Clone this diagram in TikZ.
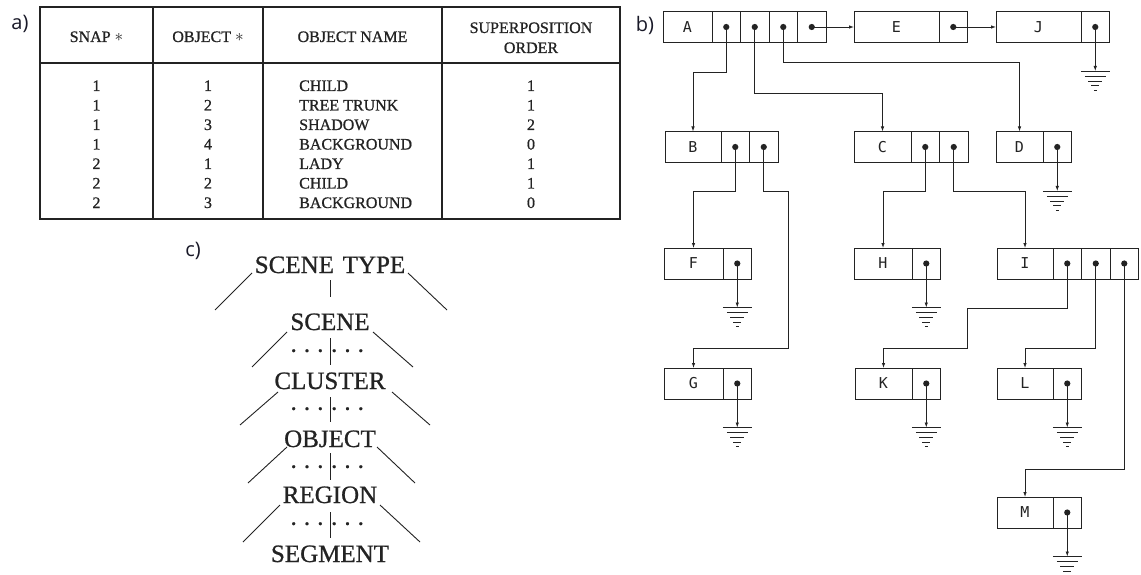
\documentclass[tikz,border=0pt]{standalone}
\usepackage{fontspec}
\setmainfont{Liberation Serif}[BoldFont={Liberation Serif},BoldFeatures={FakeBold=0.8}]
\newfontfamily\labfont{Open Sans}
\newfontfamily\recfont{DejaVu Sans Mono}
\usetikzlibrary{arrows.meta}
\definecolor{ink}{RGB}{35,35,35}
\definecolor{labc}{RGB}{25,25,40}
\begin{document}
\begin{tikzpicture}[x=1pt,y=-1pt,
  lab/.style={font=\labfont\fontsize{20}{20}\selectfont, text=labc, inner sep=0},
  tt/.style={font=\fontsize{16}{20}\selectfont\bfseries, text=ink, inner sep=0, anchor=base},
  tl/.style={draw=ink, line width=1.1pt},
  hier/.style={font=\fontsize{25}{25}\selectfont\bfseries, text=ink, inner sep=0, outer sep=0, anchor=base},
  dotrow/.style={font=\fontsize{25}{25}\selectfont\bfseries, text=ink, inner sep=0, anchor=base},
  hl/.style={draw=ink, line width=0.9pt},
  rec/.style={draw=ink, line width=0.9pt, inner sep=0, outer sep=0, minimum height=31pt, font=\recfont\fontsize{15}{15}\selectfont, text=ink},
  cell/.style={rec, minimum width=28.5pt},
  ptr/.style={draw=ink, line width=0.8pt, -{Latex[length=5pt,width=3.5pt]}},
  gline/.style={draw=ink, line width=0.9pt},
  gnd/.pic={\draw[gline] (-14.5,0)--(14.5,0) (-10.5,5)--(10.5,5) (-7,10)--(7,10) (-4,14.5)--(4,14.5) (-1.5,19)--(1.5,19);}
]
\fill[white] (0,0) rectangle (1141,575);
\useasboundingbox (0,0) rectangle (1141,575);

% ---------- labels ----------
\node[lab] (la) at (20,24) {a)};
\node[lab] (lb) at (645,25) {b)};
\node[lab] (lc) at (193,251) {c)};

% ---------- a) table ----------
\draw[tl] (40,7) rectangle (620,219);
\draw[tl] (40,63) -- (620,63);
\draw[tl] (153,7) -- (153,219);
\draw[tl] (263,7) -- (263,219);
\draw[tl] (442,7) -- (442,219);
\node[tt] (h1) at (96.5,42) {SNAP $\ast$};
\node[tt] (h2) at (208,42) {OBJECT $\ast$};
\node[tt] (h3) at (352.5,42) {OBJECT NAME};
\node[tt] (h4) at (531,33) {SUPERPOSITION};
\node[tt] (h5) at (531,53) {ORDER};
\foreach \s/\o/\n/\p [count=\i from 0] in {1/1/CHILD/1,1/2/TREE TRUNK/1,1/3/SHADOW/2,1/4/BACKGROUND/0,2/1/LADY/1,2/2/CHILD/1,2/3/BACKGROUND/0}{
  \node[tt] (s\i) at (96.5,91+19.5*\i) {\s};
  \node[tt] (o\i) at (208,91+19.5*\i) {\o};
  \node[tt,anchor=base west] (n\i) at (299,91+19.5*\i) {\n};
  \node[tt] (p\i) at (531,91+19.5*\i) {\p};
}

% ---------- c) hierarchy ----------
\node[hier] (st) at (330,273) {SCENE\hspace{0.35em}TYPE};
\node[hier] (sc) at (330,330) {SCENE};
\node[hier] (cl) at (330,389) {CLUSTER};
\node[hier] (ob) at (330,447) {OBJECT};
\node[hier] (re) at (330,503) {REGION};
\node[hier] (sg) at (330,562) {SEGMENT};
\draw[hl,shorten <=7pt,shorten >=16.5pt] (st) -- (sc);
\draw[hl,shorten <=8pt,shorten >=7.5pt] (sc) -- (cl);
\draw[hl,shorten <=8pt,shorten >=8.5pt] (cl) -- (ob);
\draw[hl,shorten <=6pt,shorten >=6.5pt] (ob) -- (re);
\draw[hl,shorten <=9pt,shorten >=7.5pt] (re) -- (sg);
\foreach \y [count=\k] in {359,417,475,532}{
  \node[dotrow] (dl\k) at (307,\y) {·\hspace{5pt}·\hspace{5pt}·};
  \node[dotrow] (dr\k) at (347.5,\y) {·\hspace{5pt}·\hspace{5pt}·};
}
\draw[hl] (252,273) -- (215,310) (408,273) -- (447,310);
\draw[hl] (287,332) -- (252,367) (373,332) -- (413,367);
\draw[hl] (278,392) -- (240,425) (392,392) -- (430,425);
\draw[hl] (287,447) -- (248,483) (377,447) -- (415,483);
\draw[hl] (280,505) -- (243,542) (380,505) -- (420,542);

% ---------- b) linked structure ----------
\node[rec,minimum width=49pt,anchor=west] (A) at (663,27) {A};
\node[cell,anchor=west] (A1) at (A.east) {};
\node[cell,anchor=west] (A2) at (A1.east) {};
\node[cell,anchor=west] (A3) at (A2.east) {};
\node[cell,anchor=west] (A4) at (A3.east) {};
\node[rec,minimum width=85pt,anchor=west] (E) at (854,27) {E};
\node[cell,anchor=west] (E1) at (E.east) {};
\node[rec,minimum width=85pt,anchor=west] (J) at (996,27) {J};
\node[cell,anchor=west] (J1) at (J.east) {};

\node[rec,minimum width=56pt,anchor=west] (B) at (665,147) {B};
\node[cell,anchor=west] (B1) at (B.east) {};
\node[cell,anchor=west] (B2) at (B1.east) {};
\node[rec,minimum width=57pt,anchor=west] (C) at (854,147) {C};
\node[cell,anchor=west] (C1) at (C.east) {};
\node[cell,anchor=west] (C2) at (C1.east) {};
\node[rec,minimum width=47pt,anchor=west] (D) at (996,147) {D};
\node[cell,anchor=west] (D1) at (D.east) {};

\node[rec,minimum width=59pt,anchor=west] (F) at (664,263.5) {F};
\node[cell,anchor=west] (F1) at (F.east) {};
\node[rec,minimum width=58pt,anchor=west] (H) at (854,263.5) {H};
\node[cell,anchor=west] (H1) at (H.east) {};
\node[rec,minimum width=56pt,anchor=west] (I) at (997,263.5) {I};
\node[cell,anchor=west] (I1) at (I.east) {};
\node[cell,anchor=west] (I2) at (I1.east) {};
\node[cell,anchor=west] (I3) at (I2.east) {};

\node[rec,minimum width=59pt,anchor=west] (G) at (664,383.5) {G};
\node[cell,anchor=west] (G1) at (G.east) {};
\node[rec,minimum width=57pt,anchor=west] (K) at (855,383.5) {K};
\node[cell,anchor=west] (K1) at (K.east) {};
\node[rec,minimum width=56pt,anchor=west] (L) at (997,383.5) {L};
\node[cell,anchor=west] (L1) at (L.east) {};

\node[rec,minimum width=56pt,anchor=west] (M) at (997,512.5) {M};
\node[cell,anchor=west] (M1) at (M.east) {};

% pointers
\draw[ptr] (A1.center) -- ++(0,45) -| (B.north);
\draw[ptr] (A2.center) -- ++(0,66) -| (C.north);
\draw[ptr] (A3.center) -- ++(0,35) -| (D.north);
\draw[ptr] (A4.center) -- (E.west);
\draw[ptr] (E1.center) -- (J.west);
\draw[ptr] (B1.center) -- ++(0,44) -| (F.north);
\draw[ptr] (B2.center) -- ++(0,44) -| ++(25,157) -| (G.north);
\draw[ptr] (C1.center) -- ++(0,44) -| (H.north);
\draw[ptr] (C2.center) -- ++(0,44) -| (I.north);
\draw[ptr] (I1.center) -- ++(0,44.5) -| ++(-99.5,40) -| (K.north);
\draw[ptr] (I2.center) -- ++(0,84.5) -| (L.north);
\draw[ptr] (I3.center) -- ++(0,205.5) -| (M.north);

% grounds
\foreach \g in {J1,D1,F1,H1,G1,K1,L1,M1}{
  \path (\g.center) ++(0,44) coordinate (g\g);
  \draw[ptr] (\g.center) -- (g\g);
  \pic at (g\g) {gnd};
}

% pointer dots
\foreach \c in {A1,A2,A3,A4,E1,J1,B1,B2,C1,C2,D1,F1,H1,I1,I2,I3,G1,K1,L1,M1}
  \fill[ink] (\c.center) circle (3.1pt);
\end{tikzpicture}
\end{document}
